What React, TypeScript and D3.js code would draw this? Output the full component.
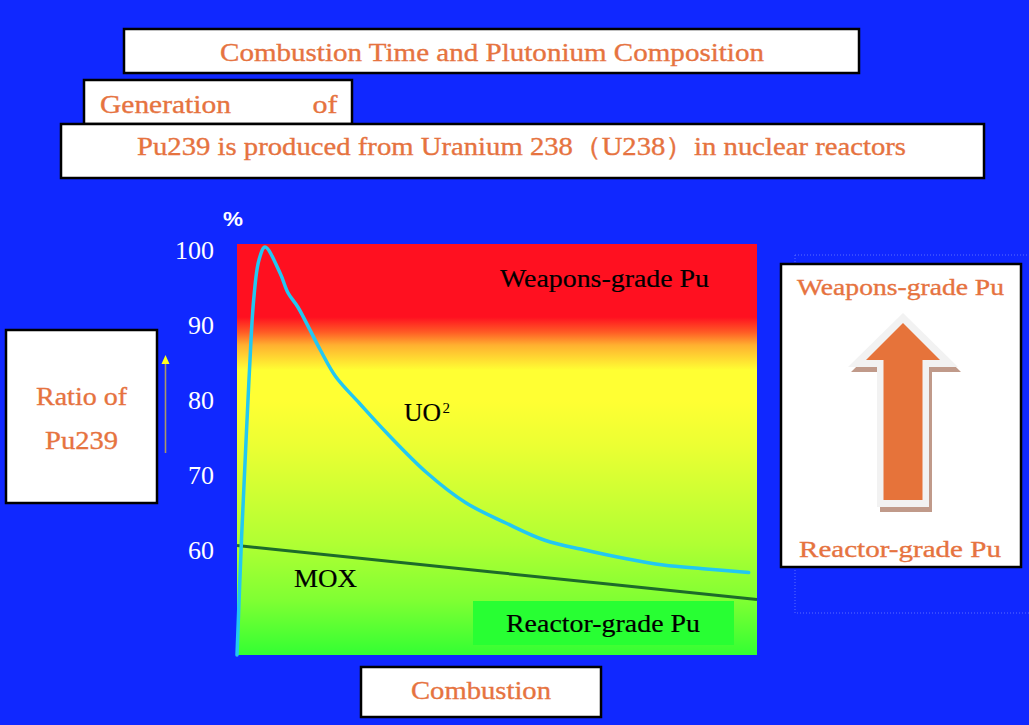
import React from "react";
import * as d3 from "d3";

// ---- data ----
const uo2Combustion = [0, 0.9, 1.7, 2.4, 3.2, 4.2, 5.4, 8.3, 9.8, 11.7, 16, 19, 23.5, 28.8, 36.5, 44, 51.7, 59.2, 66.9, 74.4, 82, 89.6, 98.4];
const uo2Ratio = [46, 62, 74, 84, 93.3, 98.6, 100.4, 96.9, 94.3, 92.4, 86.7, 83.1, 79.6, 75.6, 70.3, 66.3, 63.6, 61.3, 60, 58.9, 58, 57.5, 57];
const moxCombustion = [0, 50, 100];
const moxRatio = [60.6, 57.0, 53.4];
const yTicks = [60, 70, 80, 90, 100];

const titleText = "Combustion Time and Plutonium Composition";
const subtitleText = "Pu239 is produced from Uranium 238（U238）in nuclear reactors";

const BLUE = "#1028ff";
const ORANGE = "#e6733f";
const SERIF = "'Liberation Serif', 'DejaVu Serif', serif";

export default function App() {
  const x = d3.scaleLinear().domain([0, 100]).range([237, 757]);
  const y = d3.scaleLinear().domain([46, 100.8]).range([655, 244]);

  const uo2Pts: [number, number][] = uo2Combustion.map((c, i) => [c, uo2Ratio[i]]);
  const moxPts: [number, number][] = moxCombustion.map((c, i) => [c, moxRatio[i]]);

  const line = d3
    .line<[number, number]>()
    .x((d) => x(d[0]))
    .y((d) => y(d[1]))
    .curve(d3.curveCatmullRom.alpha(0.5));

  const [x0, x1] = x.range();
  const [yb, yt] = y.range();

  const box = (bx: number, by: number, w: number, h: number, key: string) => (
    <rect key={key} x={bx} y={by} width={w} height={h} fill="#ffffff" stroke="#000" strokeWidth={2.5} />
  );

  const oText = (tx: number, ty: number, len: number, s: string, size = 26) => (
    <text
      x={tx}
      y={ty}
      fontFamily={SERIF}
      fontSize={size}
      fill={ORANGE}
      stroke={ORANGE}
      strokeWidth={0.35}
      textLength={len}
      lengthAdjust="spacingAndGlyphs"
    >
      {s}
    </text>
  );

  const kText = (tx: number, ty: number, len: number, s: string, size = 26) => (
    <text
      x={tx}
      y={ty}
      fontFamily={SERIF}
      fontSize={size}
      fill="#000"
      stroke="#000"
      strokeWidth={0.2}
      textLength={len}
      lengthAdjust="spacingAndGlyphs"
    >
      {s}
    </text>
  );

  // big arrow geometry (right box)
  const arrow = (tipX: number, tipY: number, headHalf: number, headY: number, shaftHalf: number, bottom: number) =>
    [
      [tipX, tipY],
      [tipX + headHalf, headY],
      [tipX + shaftHalf, headY],
      [tipX + shaftHalf, bottom],
      [tipX - shaftHalf, bottom],
      [tipX - shaftHalf, headY],
      [tipX - headHalf, headY],
    ]
      .map((p) => p.join(","))
      .join(" ");

  return (
    <svg width={1029} height={725} style={{ position: "absolute", left: 0, top: 0 }}>
      <defs>
        <linearGradient id="bg" x1="0" y1="0" x2="0" y2="1">
          <stop offset="0" stopColor="#ff1020" />
          <stop offset="0.178" stopColor="#ff1020" />
          <stop offset="0.214" stopColor="#ff5a25" />
          <stop offset="0.246" stopColor="#ffb030" />
          <stop offset="0.307" stopColor="#ffff33" />
          <stop offset="0.38" stopColor="#ffff33" />
          <stop offset="0.487" stopColor="#ecff33" />
          <stop offset="0.73" stopColor="#b0ff33" />
          <stop offset="0.866" stopColor="#80ff33" />
          <stop offset="1" stopColor="#33ff33" />
        </linearGradient>
      </defs>
      <rect x={0} y={0} width={1029} height={725} fill={BLUE} />

      {/* title boxes */}
      {box(124, 29, 735, 44, "b1")}
      {oText(220, 61, 544, titleText)}
      {box(84, 80, 268, 44, "b2")}
      {oText(100, 113, 131, "Generation")}
      {oText(312.5, 113, 25, "of")}
      {box(61, 124, 923, 54, "b3")}
      {oText(137, 155, 769, subtitleText)}

      {/* plot background */}
      <rect x={x0} y={yt} width={x1 - x0} height={yb - yt} fill="url(#bg)" />
      <rect x={473} y={601} width={261} height={44} fill="#28ff33" />

      {/* y tick labels */}
      {yTicks.map((t) => (
        <text key={t} x={214} y={y(t)} dy="0.33em" textAnchor="end" fontFamily={SERIF} fontSize={26} fill="#ffffff">
          {t}
        </text>
      ))}
      <text x={223} y={226} fontFamily="'Liberation Sans', Arial, sans-serif" fontWeight="bold" fontSize={21} fill="#ffffff" textLength={20} lengthAdjust="spacingAndGlyphs">
        %
      </text>

      {/* series */}
      <path d={line(moxPts) || ""} fill="none" stroke="#1d6b2a" strokeWidth={3} />
      <path d={line(uo2Pts) || ""} fill="none" stroke="#22c8f2" strokeWidth={3.5} strokeLinecap="round" />

      {/* in-chart labels */}
      {kText(500, 287, 209, "Weapons-grade Pu")}
      {kText(404, 421, 37, "UO")}
      <text x={442.5} y={413} fontFamily={SERIF} fontSize={15} fill="#000">
        2
      </text>
      {kText(294, 587, 63, "MOX")}
      {kText(506, 632, 194, "Reactor-grade Pu")}

      {/* left box */}
      {box(6, 330, 151, 173, "bl")}
      {oText(36, 405, 91, "Ratio of")}
      {oText(45, 449, 73, "Pu239")}

      {/* small yellow arrow */}
      <line x1={165.5} y1={453} x2={165.5} y2={362} stroke="#a89868" strokeWidth={1.6} />
      <polygon points="165.5,355 161.5,364 169.5,364" fill="#ffff20" />

      {/* right box */}
      <rect x={795} y={255} width={250} height={358} fill="none" stroke="#5a6cff" strokeWidth={1} strokeDasharray="1,2" />
      {box(781, 264, 240, 303, "br")}
      {oText(797, 295, 207, "Weapons-grade Pu", 23)}
      <polygon points={arrow(906, 318, 55, 372, 26, 512)} fill="#c09a8a" />
      <polygon points={arrow(903, 313, 55, 367, 26, 507)} fill="#f2f2f2" />
      <polygon points={arrow(903, 323, 37, 360, 19.5, 500)} fill="#e6733a" />
      {oText(799, 557, 202, "Reactor-grade Pu", 23)}

      {/* combustion box */}
      {box(361, 667, 240, 50, "bc")}
      {oText(411, 699, 140, "Combustion")}
    </svg>
  );
}
